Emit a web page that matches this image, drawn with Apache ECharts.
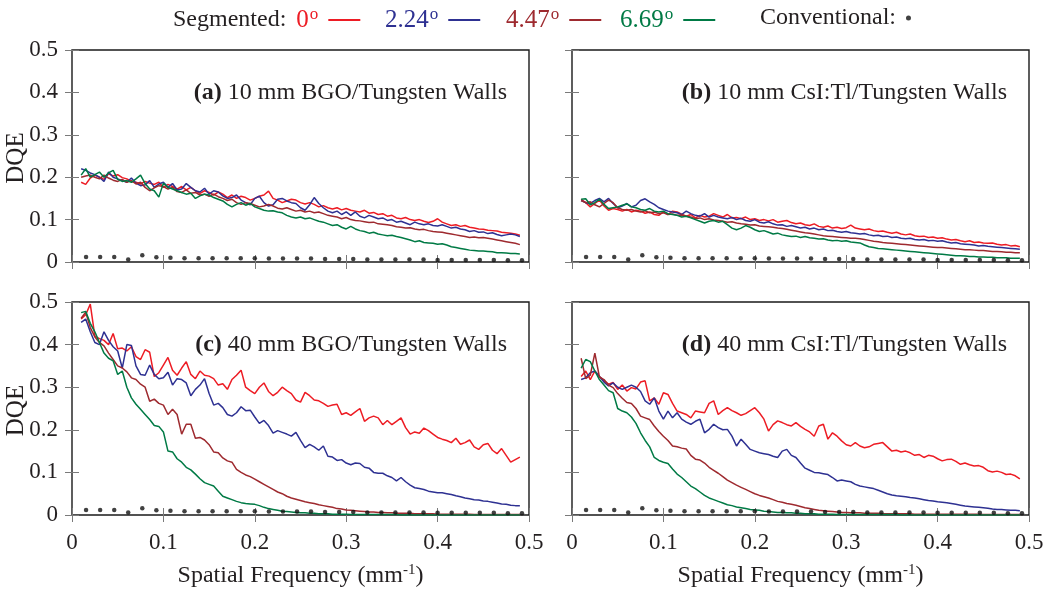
<!DOCTYPE html>
<html><head><meta charset="utf-8">
<script src="https://cdn.jsdelivr.net/npm/echarts@6/dist/echarts.min.js"></script>
<style>html,body{margin:0;padding:0;background:#fff}#c{width:1050px;height:591px}</style>
</head><body><div id="c"></div>
<script>
// ---- data ----
const freq = [
0.010,0.015,0.020,0.025,0.030,0.035,0.040,0.045,0.050,0.055,
0.060,0.065,0.070,0.075,0.080,0.085,0.090,0.095,0.100,0.105,
0.110,0.115,0.120,0.125,0.130,0.135,0.140,0.145,0.150,0.155,
0.160,0.165,0.170,0.175,0.180,0.185,0.190,0.195,0.200,0.205,
0.210,0.215,0.220,0.225,0.230,0.235,0.240,0.245,0.250,0.255,
0.260,0.265,0.270,0.275,0.280,0.285,0.290,0.295,0.300,0.305,
0.310,0.315,0.320,0.325,0.330,0.335,0.340,0.345,0.350,0.355,
0.360,0.365,0.370,0.375,0.380,0.385,0.390,0.395,0.400,0.405,
0.410,0.415,0.420,0.425,0.430,0.435,0.440,0.445,0.450,0.455,
0.460,0.465,0.470,0.475,0.480,0.485,0.490];

const angleNames = ['0','2.24','4.47','6.69'];
const convName = 'Conventional:';
const yAxisTitle = 'DQE';
const xAxisTitle = 'Spatial Frequency (mm{sup|-1})';
const panelTitles = [
  ['(a)',' 10 mm BGO/Tungsten Walls'],
  ['(b)',' 10 mm CsI:Tl/Tungsten Walls'],
  ['(c)',' 40 mm BGO/Tungsten Walls'],
  ['(d)',' 40 mm CsI:Tl/Tungsten Walls']];

// (a) 10 mm BGO
const bgo10_0 = [
0.188,0.183,0.198,0.205,0.200,0.195,0.208,0.203,0.206,0.199,
0.196,0.190,0.188,0.184,0.190,0.186,0.183,0.188,0.176,0.183,
0.178,0.172,0.178,0.170,0.176,0.168,0.162,0.168,0.164,0.158,
0.165,0.160,0.152,0.158,0.150,0.155,0.152,0.146,0.150,0.155,
0.158,0.167,0.150,0.146,0.140,0.144,0.148,0.146,0.140,0.137,
0.140,0.136,0.130,0.133,0.128,0.125,0.128,0.123,0.126,0.122,
0.120,0.118,0.122,0.115,0.117,0.112,0.114,0.108,0.110,0.104,
0.102,0.105,0.100,0.098,0.100,0.096,0.093,0.096,0.102,0.094,
0.090,0.086,0.088,0.084,0.086,0.082,0.080,0.078,0.077,0.075,
0.074,0.073,0.070,0.069,0.068,0.066,0.063];
const bgo10_1 = [
0.220,0.216,0.210,0.206,0.200,0.190,0.212,0.200,0.196,0.192,
0.188,0.198,0.186,0.180,0.182,0.192,0.176,0.184,0.188,0.176,
0.185,0.170,0.172,0.185,0.176,0.168,0.165,0.174,0.160,0.168,
0.165,0.156,0.150,0.152,0.158,0.146,0.140,0.135,0.150,0.155,
0.140,0.132,0.135,0.148,0.150,0.144,0.140,0.138,0.128,0.122,
0.135,0.152,0.138,0.128,0.120,0.116,0.120,0.112,0.118,0.110,
0.118,0.108,0.104,0.110,0.106,0.102,0.104,0.098,0.100,0.094,
0.096,0.092,0.088,0.094,0.090,0.088,0.090,0.086,0.085,0.088,
0.084,0.080,0.082,0.078,0.076,0.072,0.074,0.070,0.071,0.067,
0.069,0.065,0.062,0.064,0.066,0.064,0.060];
const bgo10_2 = [
0.200,0.203,0.205,0.200,0.196,0.205,0.198,0.193,0.190,0.195,
0.188,0.192,0.184,0.188,0.176,0.168,0.175,0.180,0.178,0.172,
0.176,0.166,0.164,0.170,0.162,0.164,0.158,0.160,0.155,0.160,
0.154,0.150,0.145,0.148,0.140,0.136,0.140,0.138,0.134,0.130,
0.132,0.136,0.132,0.127,0.125,0.128,0.124,0.120,0.122,0.118,
0.120,0.116,0.118,0.114,0.110,0.108,0.106,0.102,0.105,0.100,
0.098,0.097,0.095,0.093,0.094,0.090,0.089,0.088,0.086,0.083,
0.082,0.080,0.081,0.078,0.076,0.077,0.074,0.072,0.071,0.070,
0.068,0.066,0.064,0.062,0.060,0.058,0.059,0.057,0.058,0.056,
0.054,0.052,0.050,0.048,0.046,0.044,0.041];
const bgo10_3 = [
0.205,0.220,0.200,0.206,0.212,0.200,0.210,0.216,0.195,0.190,
0.192,0.188,0.196,0.205,0.185,0.172,0.168,0.153,0.186,0.176,
0.172,0.168,0.164,0.160,0.162,0.150,0.156,0.160,0.158,0.152,
0.148,0.144,0.136,0.130,0.136,0.140,0.134,0.138,0.130,0.126,
0.122,0.120,0.121,0.118,0.116,0.110,0.106,0.104,0.106,0.102,
0.104,0.100,0.096,0.094,0.090,0.086,0.088,0.082,0.078,0.084,
0.078,0.074,0.072,0.068,0.070,0.066,0.064,0.062,0.063,0.060,
0.058,0.055,0.052,0.048,0.050,0.046,0.045,0.044,0.042,0.043,
0.040,0.036,0.034,0.032,0.030,0.028,0.027,0.026,0.026,0.025,
0.024,0.022,0.022,0.021,0.020,0.020,0.019];

// (b) 10 mm CsI:Tl
const csi10_0 = [
0.148,0.140,0.130,0.138,0.146,0.132,0.122,0.126,0.124,0.120,
0.124,0.118,0.122,0.120,0.115,0.118,0.112,0.110,0.118,0.112,
0.120,0.118,0.113,0.108,0.112,0.104,0.110,0.106,0.108,0.114,
0.110,0.106,0.112,0.104,0.105,0.102,0.106,0.100,0.102,0.098,
0.100,0.097,0.100,0.094,0.096,0.098,0.093,0.090,0.092,0.088,
0.086,0.090,0.084,0.082,0.085,0.080,0.082,0.079,0.081,0.087,
0.080,0.078,0.076,0.078,0.074,0.072,0.073,0.070,0.068,0.070,
0.066,0.064,0.066,0.062,0.060,0.061,0.058,0.059,0.056,0.057,
0.054,0.052,0.053,0.050,0.048,0.050,0.046,0.047,0.045,0.044,
0.045,0.042,0.040,0.041,0.038,0.039,0.036];
const csi10_1 = [
0.145,0.140,0.138,0.145,0.150,0.142,0.150,0.138,0.128,0.132,
0.138,0.130,0.134,0.145,0.149,0.142,0.136,0.128,0.124,0.120,
0.118,0.116,0.112,0.120,0.114,0.110,0.108,0.114,0.106,0.110,
0.106,0.104,0.102,0.105,0.100,0.103,0.098,0.096,0.100,0.094,
0.092,0.095,0.090,0.087,0.088,0.084,0.086,0.083,0.080,0.082,
0.078,0.080,0.076,0.078,0.074,0.075,0.072,0.070,0.072,0.069,
0.068,0.066,0.067,0.064,0.062,0.063,0.060,0.061,0.058,0.059,
0.056,0.055,0.056,0.053,0.052,0.053,0.050,0.051,0.049,0.050,
0.047,0.045,0.046,0.043,0.042,0.041,0.040,0.038,0.039,0.037,
0.036,0.035,0.034,0.033,0.032,0.031,0.030];
const csi10_2 = [
0.145,0.140,0.142,0.135,0.130,0.138,0.146,0.140,0.128,0.124,
0.122,0.124,0.120,0.118,0.121,0.116,0.118,0.114,0.116,0.112,
0.113,0.110,0.111,0.108,0.106,0.102,0.104,0.100,0.102,0.099,
0.098,0.096,0.094,0.095,0.092,0.090,0.089,0.087,0.088,0.085,
0.084,0.083,0.082,0.080,0.079,0.077,0.075,0.073,0.071,0.069,
0.068,0.066,0.064,0.062,0.061,0.060,0.059,0.058,0.057,0.056,
0.056,0.055,0.053,0.051,0.049,0.048,0.046,0.045,0.044,0.043,
0.042,0.041,0.040,0.039,0.038,0.037,0.036,0.035,0.034,0.034,
0.033,0.032,0.031,0.030,0.029,0.029,0.028,0.027,0.027,0.026,
0.025,0.025,0.024,0.023,0.023,0.022,0.022];
const csi10_3 = [
0.148,0.149,0.135,0.140,0.148,0.136,0.126,0.128,0.130,0.134,
0.137,0.130,0.128,0.124,0.122,0.126,0.120,0.118,0.120,0.114,
0.112,0.110,0.106,0.108,0.104,0.100,0.096,0.092,0.096,0.098,
0.094,0.096,0.088,0.080,0.076,0.080,0.086,0.082,0.076,0.072,
0.074,0.070,0.066,0.068,0.064,0.062,0.060,0.061,0.058,0.060,
0.057,0.056,0.054,0.055,0.052,0.050,0.051,0.049,0.050,0.047,
0.046,0.045,0.040,0.036,0.034,0.032,0.031,0.030,0.029,0.028,
0.027,0.026,0.025,0.024,0.023,0.022,0.021,0.020,0.019,0.018,
0.017,0.016,0.015,0.015,0.014,0.013,0.013,0.012,0.012,0.011,
0.011,0.010,0.010,0.010,0.009,0.009,0.009];

// (c) 40 mm BGO
const bgo40_0 = [
0.460,0.470,0.495,0.420,0.414,0.410,0.400,0.426,0.390,0.392,
0.385,0.395,0.372,0.365,0.388,0.382,0.325,0.334,0.352,0.370,
0.340,0.328,0.345,0.360,0.330,0.320,0.338,0.328,0.326,0.320,
0.305,0.308,0.295,0.318,0.328,0.340,0.300,0.292,0.285,0.300,
0.310,0.290,0.280,0.288,0.300,0.292,0.285,0.270,0.265,0.288,
0.280,0.270,0.268,0.262,0.255,0.258,0.260,0.236,0.240,0.234,
0.242,0.250,0.220,0.228,0.232,0.228,0.212,0.222,0.212,0.220,
0.228,0.205,0.190,0.195,0.192,0.204,0.198,0.190,0.182,0.178,
0.175,0.170,0.180,0.166,0.170,0.176,0.160,0.154,0.165,0.168,
0.152,0.144,0.156,0.140,0.124,0.130,0.136];
const bgo40_1 = [
0.452,0.460,0.430,0.405,0.400,0.430,0.410,0.395,0.385,0.345,
0.400,0.398,0.350,0.330,0.328,0.352,0.330,0.320,0.322,0.335,
0.305,0.320,0.318,0.310,0.280,0.295,0.305,0.320,0.285,0.258,
0.262,0.252,0.236,0.232,0.240,0.254,0.245,0.246,0.230,0.215,
0.222,0.210,0.192,0.198,0.194,0.190,0.185,0.194,0.175,0.158,
0.166,0.160,0.152,0.162,0.138,0.136,0.128,0.130,0.122,0.118,
0.122,0.121,0.112,0.110,0.100,0.098,0.098,0.092,0.088,0.080,
0.088,0.078,0.070,0.064,0.062,0.060,0.056,0.054,0.052,0.052,
0.050,0.048,0.045,0.043,0.040,0.038,0.036,0.035,0.033,0.032,
0.030,0.028,0.026,0.025,0.023,0.022,0.022];
const bgo40_2 = [
0.462,0.476,0.440,0.418,0.405,0.397,0.380,0.365,0.350,0.345,
0.336,0.322,0.318,0.307,0.300,0.267,0.272,0.262,0.258,0.236,
0.248,0.236,0.190,0.213,0.213,0.180,0.182,0.176,0.165,0.148,
0.146,0.134,0.127,0.124,0.107,0.100,0.094,0.090,0.084,0.078,
0.072,0.066,0.060,0.054,0.050,0.044,0.040,0.037,0.034,0.031,
0.029,0.027,0.024,0.022,0.020,0.018,0.015,0.014,0.012,0.011,
0.010,0.009,0.008,0.007,0.007,0.006,0.006,0.005,0.005,0.004,
0.004,0.004,0.004,0.003,0.003,0.003,0.003,0.003,0.002,0.002,
0.002,0.002,0.002,0.002,0.002,0.002,0.001,0.001,0.001,0.001,
0.001,0.001,0.001,0.001,0.001,0.001,0.001];
const bgo40_3 = [
0.475,0.478,0.450,0.430,0.405,0.380,0.368,0.362,0.330,0.338,
0.300,0.275,0.260,0.248,0.236,0.224,0.210,0.208,0.195,0.150,
0.148,0.132,0.124,0.112,0.106,0.096,0.085,0.076,0.072,0.068,
0.056,0.044,0.040,0.036,0.032,0.029,0.027,0.026,0.025,0.022,
0.018,0.015,0.013,0.011,0.009,0.008,0.007,0.006,0.005,0.005,
0.004,0.004,0.003,0.003,0.003,0.002,0.002,0.002,0.002,0.001,
0.001,0.001,0.001,0.001,0.001,0.001,0.001,0.001,0.001,0.001,
0,0,0,0,0,0,0,0,0,0,
0,0,0,0,0,0,0,0,0,0,
0,0,0,0,0,0,0];

// (d) 40 mm CsI:Tl
const csi40_0 = [
0.325,0.338,0.318,0.338,0.325,0.315,0.307,0.311,0.295,0.305,
0.291,0.299,0.296,0.312,0.315,0.268,0.275,0.260,0.287,0.283,
0.262,0.244,0.240,0.236,0.228,0.244,0.242,0.240,0.262,0.268,
0.236,0.245,0.252,0.245,0.240,0.234,0.238,0.245,0.252,0.240,
0.225,0.197,0.212,0.221,0.217,0.212,0.209,0.217,0.208,0.201,
0.195,0.185,0.209,0.213,0.178,0.193,0.185,0.174,0.165,0.162,
0.170,0.162,0.158,0.160,0.166,0.168,0.170,0.160,0.150,0.152,
0.148,0.150,0.146,0.140,0.142,0.135,0.140,0.138,0.132,0.127,
0.130,0.131,0.126,0.119,0.122,0.118,0.115,0.116,0.112,0.104,
0.101,0.103,0.100,0.095,0.096,0.092,0.085];
const csi40_1 = [
0.318,0.322,0.334,0.338,0.325,0.312,0.303,0.310,0.300,0.295,
0.300,0.305,0.300,0.290,0.268,0.260,0.275,0.244,0.225,0.244,
0.228,0.240,0.225,0.218,0.213,0.220,0.225,0.193,0.201,0.213,
0.205,0.200,0.201,0.185,0.162,0.178,0.166,0.154,0.150,0.146,
0.144,0.142,0.138,0.135,0.150,0.154,0.140,0.135,0.122,0.110,
0.105,0.100,0.099,0.097,0.095,0.088,0.080,0.082,0.080,0.078,
0.072,0.068,0.066,0.064,0.062,0.058,0.054,0.050,0.047,0.045,
0.044,0.043,0.041,0.040,0.038,0.036,0.034,0.033,0.031,0.030,
0.029,0.027,0.025,0.023,0.021,0.020,0.019,0.018,0.017,0.016,
0.014,0.013,0.013,0.012,0.011,0.011,0.010];
const csi40_2 = [
0.368,0.320,0.328,0.380,0.324,0.318,0.305,0.299,0.285,0.274,
0.264,0.262,0.250,0.232,0.228,0.224,0.209,0.196,0.185,0.175,
0.162,0.160,0.157,0.155,0.140,0.131,0.129,0.122,0.112,0.105,
0.098,0.090,0.082,0.076,0.070,0.065,0.060,0.055,0.050,0.046,
0.043,0.040,0.036,0.032,0.030,0.027,0.025,0.023,0.020,0.017,
0.015,0.013,0.011,0.010,0.009,0.008,0.007,0.006,0.006,0.005,
0.005,0.005,0.004,0.004,0.004,0.004,0.003,0.003,0.003,0.003,
0.003,0.003,0.003,0.002,0.002,0.002,0.002,0.002,0.002,0.002,
0.002,0.002,0.002,0.002,0.002,0.002,0.002,0.002,0.001,0.001,
0.001,0.001,0.001,0.001,0.001,0.001,0.001];
const csi40_3 = [
0.345,0.365,0.360,0.338,0.318,0.305,0.292,0.287,0.250,0.244,
0.240,0.230,0.215,0.193,0.175,0.160,0.135,0.128,0.124,0.121,
0.108,0.096,0.088,0.078,0.068,0.062,0.054,0.046,0.040,0.036,
0.032,0.028,0.024,0.022,0.019,0.017,0.015,0.013,0.012,0.011,
0.009,0.008,0.007,0.006,0.006,0.005,0.005,0.004,0.004,0.003,
0.003,0.003,0.002,0.002,0.002,0.002,0.001,0.001,0.001,0.001,
0.001,0.001,0.001,0.001,0.001,0.001,0.001,0.001,0.001,0.001,
0,0,0,0,0,0,0,0,0,0,
0,0,0,0,0,0,0,0,0,0,
0,0,0,0,0,0,0];

// conventional detector (dots), same in each panel
const convFreq = [0.0154,0.0308,0.0462,0.0615,0.0769,0.0923,0.1077,0.1231,0.1385,0.1538,
0.1692,0.1846,0.2000,0.2154,0.2308,0.2462,0.2615,0.2769,0.2923,0.3077,
0.3231,0.3385,0.3538,0.3692,0.3846,0.4000,0.4154,0.4308,0.4462,0.4615,0.4769,0.4923];
const conventional = [0.012,0.012,0.012,0.006,0.016,0.011,0.010,0.009,0.009,0.009,
0.009,0.009,0.009,0.008,0.008,0.008,0.008,0.007,0.007,0.007,
0.006,0.006,0.006,0.006,0.006,0.005,0.005,0.005,0.005,0.005,0.004,0.004];

const panels = [
  [bgo10_0,bgo10_1,bgo10_2,bgo10_3],
  [csi10_0,csi10_1,csi10_2,csi10_3],
  [bgo40_0,bgo40_1,bgo40_2,bgo40_3],
  [csi40_0,csi40_1,csi40_2,csi40_3]];

// ---- style / layout ----
const FONT = 'Liberation Serif';
const INK = '#231f20';
const COLORS = ['#ed1c24','#2e3192','#9e2a2f','#007a45'];
const TICK = '#7a7a7a';
const legendLeft = [168, 380, 501, 615];

const grids = [
  {left:72, top:50, width:457, height:212},
  {left:572, top:50, width:457, height:212},
  {left:72, top:302, width:457, height:213},
  {left:572, top:302, width:457, height:213}];

const legends = angleNames.map((n,i)=>({
  left: legendLeft[i], top:1, orient:'horizontal', align:'right', icon:'rect',
  itemWidth:32, itemHeight:2, selectedMode:false, data:[n],
  formatter: name => (i===0 ? '{k|Segmented:}' : '') + '{v|'+name+'}{s|o}',
  textStyle:{fontFamily:FONT, fontSize:25, color:COLORS[i],
    rich:{
      k:{fontFamily:FONT, fontSize:24, color:INK, lineHeight:28, padding:[0,10,0,0]},
      v:{fontFamily:FONT, fontSize:25, color:COLORS[i], lineHeight:28},
      s:{fontFamily:FONT, fontSize:17, color:COLORS[i], verticalAlign:'top', lineHeight:17, padding:[0, 5, 0, 1]}
    }}
}));
legends.push({left:755, top:1, orient:'horizontal', align:'right', icon:'circle', itemWidth:5, itemHeight:5,
  selectedMode:false, data:[convName],
  formatter: name => '{c|'+name+'}',
  textStyle:{fontFamily:FONT, fontSize:24, color:INK,
    rich:{c:{fontFamily:FONT, fontSize:24, color:INK, lineHeight:28, padding:[0,5,0,0]}}}});

const option = {
  animation:false,
  backgroundColor:'#fff',
  textStyle:{fontFamily:FONT, color:INK},
  grid: grids.map(g => Object.assign({show:true, borderColor:'#1a1a1a', borderWidth:1.4, backgroundColor:'transparent'}, g)),
  title: panelTitles.map((t,p)=>({
    text:'{b|'+t[0]+'}'+t[1],
    right: 1050 - (grids[p].left + grids[p].width) + 17,
    top: grids[p].top + 26,
    textStyle:{fontFamily:FONT, fontSize:24, fontWeight:'normal', color:INK,
      rich:{b:{fontFamily:FONT, fontSize:24, fontWeight:'bold', color:INK}}}
  })),
  legend: legends,
  // rotated y-axis titles for the left column
  graphic: [0,2].map(p => ({
    type:'text', x:16, y: grids[p].top + grids[p].height/2 + 2, rotation: Math.PI/2,
    style:{text:yAxisTitle, fontFamily:FONT, fontSize:25, fill:INK, align:'center', verticalAlign:'middle'},
    silent:true
  })),
  xAxis: [],
  yAxis: [],
  series: []
};

for (let p=0; p<4; p++) {
  const bottomRow = p>=2, leftCol = (p%2)===0;
  const common = {type:'value', gridIndex:p, min:0, max:0.5, interval:0.1,
    axisLine:{show:false}, splitLine:{show:false},
    axisTick:{show:true, inside:true, length:7, lineStyle:{color:TICK, width:1}}};
  option.xAxis.push(Object.assign({}, common, {position:'bottom',
    axisLabel:{show:bottomRow, fontFamily:FONT, fontSize:23, color:INK, margin:16},
    name: bottomRow ? xAxisTitle : '',
    nameLocation:'middle', nameGap:48,
    nameTextStyle:{fontFamily:FONT, fontSize:24, color:INK, lineHeight:26,
      rich:{sup:{fontFamily:FONT, fontSize:15, color:INK, verticalAlign:'top', lineHeight:15}}}}));
  option.xAxis.push(Object.assign({}, common, {position:'top', axisLabel:{show:false}}));
  option.yAxis.push(Object.assign({}, common, {position:'left',
    axisLabel:{show:leftCol, fontFamily:FONT, fontSize:23, color:INK, margin:14}}));
  option.yAxis.push(Object.assign({}, common, {position:'right', axisLabel:{show:false}}));

  for (let k=0; k<4; k++) {
    const vals = panels[p][k];
    option.series.push({type:'line', name:angleNames[k], xAxisIndex:2*p, yAxisIndex:2*p,
      data: freq.map((f,i)=>[f, vals[i]]), symbol:'none', showSymbol:false, silent:true,
      color:COLORS[k], lineStyle:{color:COLORS[k], width:1.5}, itemStyle:{color:COLORS[k]}, z:2});
  }
  option.series.push({type:'scatter', name:convName, xAxisIndex:2*p, yAxisIndex:2*p,
    data: convFreq.map((f,i)=>[f, conventional[i]]), symbol:'circle', symbolSize:4.5, silent:true,
    itemStyle:{color:'#111'}, color:'#111', z:3});
}

const chart = echarts.init(document.getElementById('c'), null, {renderer:'canvas'});
chart.setOption(option);
</script>
</body></html>
